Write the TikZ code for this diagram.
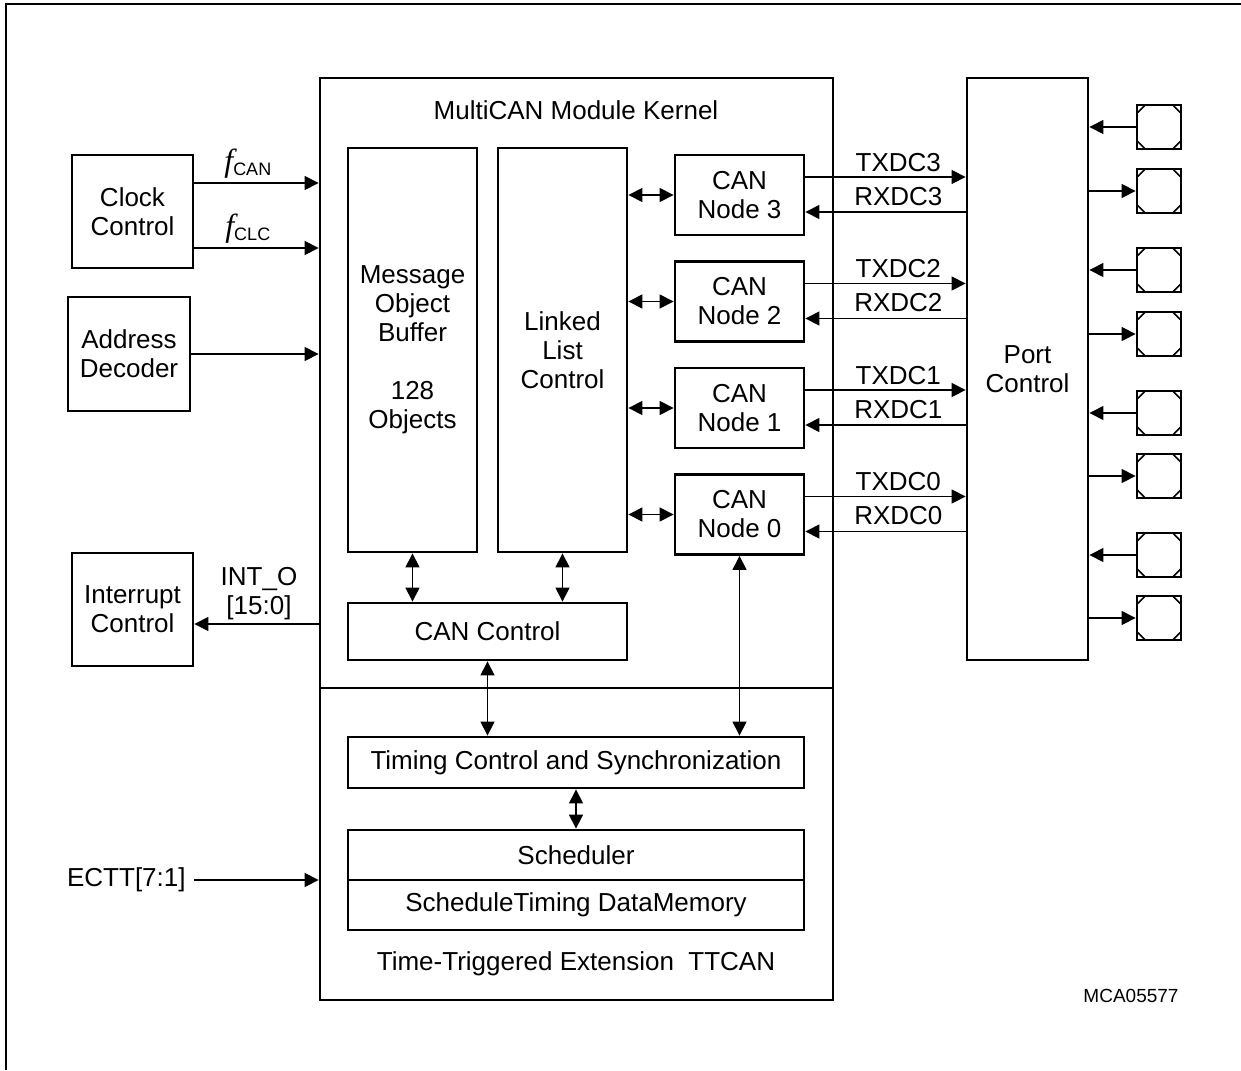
\documentclass[tikz,border=0pt]{standalone}
\usepackage{fontspec}
\setmainfont{Liberation Sans}
\newfontfamily\seriffont{Liberation Serif}
\usetikzlibrary{arrows.meta, calc, positioning}

\newcommand{\fsub}[1]{{\fontsize{16pt}{16pt}\seriffont\itshape f}\raisebox{-2pt}{\fontsize{9pt}{9pt}\selectfont #1}}

\begin{document}
\begin{tikzpicture}[x=0.5pt, y=-0.5pt,
    font=\fontsize{13pt}{14.5pt}\selectfont,
    blk/.style={draw, line width=1.4pt, inner sep=0pt, align=center},
    sig/.style={line width=0.6pt, -{Triangle[length=7pt, width=7pt]}},
    bi/.style={line width=0.6pt, {Triangle[length=7pt, width=7pt]}-{Triangle[length=7pt, width=7pt]}},
    pad/.style={draw, line width=1.4pt, minimum size=22pt, inner sep=0pt}]

    \useasboundingbox (0,0) rectangle (1241,1070);
    \draw[line width=1pt] (6,1070) -- (6,4) -- (1241,4);

    % module kernel
    \node[blk, minimum width=256.5pt, minimum height=461pt] (kernel) at (576.5,539) {};
    \coordinate (split) at (576.5,688);
    \draw[line width=1.4pt] (kernel.west |- split) -- (kernel.east |- split);
    \node (title) at (576,110) {MultiCAN Module Kernel};

    \node[blk, minimum width=64.5pt, minimum height=202pt] (mob) at (412.5,350) {Message\\Object\\Buffer\\[14.5pt]128\\Objects};
    \node[blk, minimum width=64.5pt, minimum height=202pt] (llc) at (562.5,350) {Linked\\List\\Control};
    \foreach \i/\y in {3/195, 2/301.5, 1/408, 0/514.5} {
        \node[blk, minimum width=64.5pt, minimum height=40pt] (n\i) at (739.5,\y) {CAN\\Node \i};
        \draw[bi] (llc.east |- n\i.west) -- (n\i.west);
    }
    \node[blk, minimum width=139.5pt, minimum height=28.5pt] (canctl) at (487.5,631.5) {CAN Control};
    \draw[bi] (mob.south) -- (mob.south |- canctl.north);
    \draw[bi] (llc.south) -- (llc.south |- canctl.north);

    % TTCAN part
    \node[blk, minimum width=228pt, minimum height=25.5pt] (timing) at (576,762.5) {Timing Control and Synchronization};
    \node[blk, minimum width=228pt, minimum height=25pt] (sched) at (576,855) {Scheduler};
    \node[blk, minimum width=228pt, minimum height=25pt] (mem) at (576,905) {ScheduleTiming DataMemory};
    \draw[bi] (canctl.south) -- (canctl.south |- timing.north);
    \draw[bi] (n0.south) -- (n0.south |- timing.north);
    \draw[bi] (timing.south) -- (sched.north);
    \node (ttcan) at (576,964) {Time-Triggered Extension\ \ TTCAN};

    % port control and pins
    \node[blk, minimum width=60.5pt, minimum height=291pt] (port) at (1027.5,369) {Port\\Control};
    \foreach \i in {0,...,3} {
        \coordinate (tx\i) at ([yshift=9pt]n\i.east);
        \coordinate (rx\i) at ([yshift=-8.5pt]n\i.east);
        \draw[sig] (tx\i) -- (tx\i -| port.west) node[pos=0.58, above, inner sep=2.5pt] {TXDC\i};
        \draw[sig] (rx\i -| port.west) -- (rx\i) node[pos=0.42, above, inner sep=3pt] {RXDC\i};
    }
    \foreach \k/\y in {1/127, 2/191, 3/270, 4/334, 5/413, 6/476, 7/555, 8/618} {
        \node[pad] (pad\k) at (1159,\y) {};
        \draw[line width=0.8pt] ([shift={(1pt,-4.5pt)}]pad\k.north west) -- ([shift={(4.5pt,-1pt)}]pad\k.north west);
        \draw[line width=0.8pt] ([shift={(-1pt,-4.5pt)}]pad\k.north east) -- ([shift={(-4.5pt,-1pt)}]pad\k.north east);
        \draw[line width=0.8pt] ([shift={(1pt,4.5pt)}]pad\k.south west) -- ([shift={(4.5pt,1pt)}]pad\k.south west);
        \draw[line width=0.8pt] ([shift={(-1pt,4.5pt)}]pad\k.south east) -- ([shift={(-4.5pt,1pt)}]pad\k.south east);
    }
    \foreach \k in {1,3,5,7}
        \draw[sig] (pad\k.west) -- (pad\k.west -| port.east);
    \foreach \k in {2,4,6,8}
        \draw[sig] (pad\k.west -| port.east) -- (pad\k.west);

    % left side blocks
    \node[blk, minimum width=60.5pt, minimum height=56.5pt] (clk) at (132.5,211.5) {Clock\\Control};
    \node[blk, minimum width=61pt, minimum height=57pt] (addr) at (129,354) {Address\\Decoder};
    \node[blk, minimum width=60.5pt, minimum height=56.5pt] (intr) at (132.5,609.5) {Interrupt\\Control};
    \coordinate (fcan) at ([yshift=14.25pt]clk.east);
    \coordinate (fclc) at ([yshift=-18.25pt]clk.east);
    \coordinate (into) at ([yshift=-7.25pt]intr.east);
    \draw[sig] (fcan) -- (fcan -| kernel.west) node[pos=0.43, above, inner sep=2pt] {\fsub{CAN}};
    \draw[sig] (fclc) -- (fclc -| kernel.west) node[pos=0.43, above, inner sep=2pt] {\fsub{CLC}};
    \draw[sig] (addr.east) -- (addr.east -| kernel.west);
    \draw[sig] (into -| kernel.west) -- (into) node[pos=0.48, above, align=center, inner sep=2pt] {INT\_O\\{[15:0]}};
    \node[anchor=east, inner sep=0pt] (ectt) at (186,880) {ECTT[7:1]};
    \draw[sig] ([xshift=4pt]ectt.east) -- (ectt.east -| kernel.west);

    \node[font=\fontsize{9.5pt}{11pt}\selectfont] (figid) at (1131,996) {MCA05577};
\end{tikzpicture}
\end{document}
